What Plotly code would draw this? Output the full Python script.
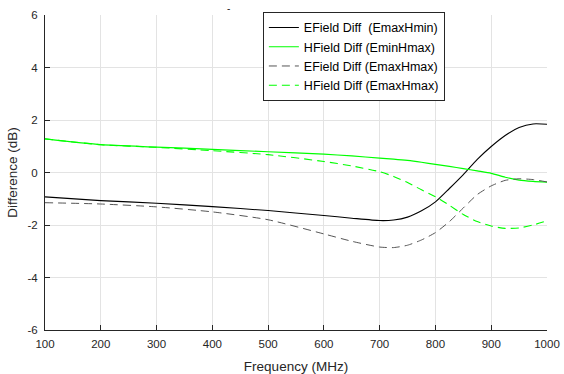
import plotly.graph_objects as go

freq = [100, 200, 300, 400, 500, 600, 650, 700, 725, 750, 775, 800, 825, 850, 875, 900, 925, 950, 975, 1000]

efield_emaxhmin = [-0.93, -1.07, -1.17, -1.30, -1.45, -1.64, -1.74, -1.83, -1.81, -1.70, -1.46, -1.12, -0.61, -0.08, 0.50, 0.99, 1.41, 1.71, 1.85, 1.84]
hfield_eminhmax = [1.28, 1.06, 0.97, 0.88, 0.79, 0.70, 0.63, 0.55, 0.51, 0.46, 0.39, 0.31, 0.23, 0.15, 0.06, -0.03, -0.18, -0.29, -0.34, -0.37]
efield_emaxhmax = [-1.15, -1.20, -1.31, -1.50, -1.80, -2.34, -2.62, -2.84, -2.86, -2.77, -2.57, -2.29, -1.87, -1.35, -0.84, -0.51, -0.30, -0.24, -0.27, -0.36]
hfield_emaxhmax = [1.28, 1.06, 0.96, 0.83, 0.68, 0.42, 0.25, 0.03, -0.15, -0.38, -0.66, -0.92, -1.25, -1.60, -1.87, -2.04, -2.13, -2.11, -2.00, -1.84]

series_names = ["EField Diff\u00a0\u00a0(EmaxHmin)", "HField Diff (EminHmax)",
                "EField Diff (EmaxHmax)", "HField Diff (EmaxHmax)"]

x_ticks = [100, 200, 300, 400, 500, 600, 700, 800, 900, 1000]
y_ticks = [-6, -4, -2, 0, 2, 4, 6]

fig = go.Figure()
styles = [
    dict(color="#000000", width=1.1, dash="solid"),
    dict(color="#00ff00", width=1.2, dash="solid"),
    dict(color="#555555", width=1.0, dash="8px,5px"),
    dict(color="#00ff00", width=1.1, dash="8px,5px"),
]
for name, ys, st in zip(series_names,
                        [efield_emaxhmin, hfield_eminhmax, efield_emaxhmax, hfield_emaxhmax],
                        styles):
    fig.add_trace(go.Scatter(x=freq, y=ys, mode="lines", name=name,
                             line=dict(shape="spline", smoothing=0.6, **st)))

axis_font = dict(family="Liberation Sans, Arial, sans-serif", size=11.5, color="#262626")
fig.update_layout(
    width=564, height=374,
    margin=dict(l=45, r=17, t=15, b=44, autoexpand=False),
    paper_bgcolor="white", plot_bgcolor="white",
    font=dict(family="Liberation Sans, Arial, sans-serif", color="#262626"),
    showlegend=True,
    legend=dict(x=0.434, y=1.01, xanchor="left", yanchor="top",
                bgcolor="white", bordercolor="#262626", borderwidth=1,
                font=dict(family="Liberation Sans, Arial, sans-serif", size=12.5, color="#000000"),
                tracegroupgap=0, itemwidth=30),
    xaxis=dict(range=[100, 1000], tickvals=x_ticks, ticktext=[str(v) for v in x_ticks],
               showgrid=True, gridcolor="#e3e3e3", gridwidth=1,
               showline=True, linecolor="#262626", linewidth=1,
               ticks="inside", ticklen=5, tickcolor="#262626", ticklabelstandoff=3,
               tickfont=axis_font, zeroline=False, automargin=False,
               title=dict(text="Frequency (MHz)", font=dict(size=13.5, color="#262626"), standoff=14)),
    yaxis=dict(range=[-6, 6], tickvals=y_ticks, ticktext=[str(v) for v in y_ticks],
               showgrid=True, gridcolor="#e3e3e3", gridwidth=1,
               showline=True, linecolor="#262626", linewidth=1,
               ticks="inside", ticklen=5, tickcolor="#262626", ticklabelstandoff=4,
               tickfont=axis_font, zeroline=False, automargin=False,
               title=dict(text="Difference (dB)", font=dict(size=13.5, color="#262626"), standoff=6)),
    annotations=[dict(text="-", xref="paper", yref="paper", x=0.365, y=1.0, yanchor="bottom",
                      showarrow=False, font=dict(size=10, color="#262626"), yshift=-1)],
)

fig.write_html("out.html", config={"displayModeBar": False},
               post_script="document.body.style.margin='0';document.body.style.overflow='hidden';")
